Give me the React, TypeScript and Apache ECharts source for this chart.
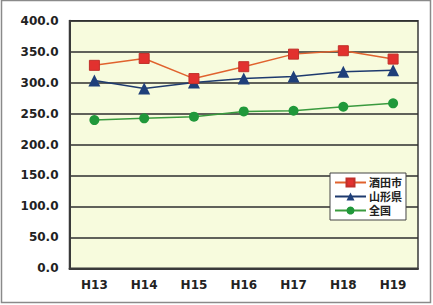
import React, { useEffect, useRef } from "react";
import * as echarts from "echarts";

const categories = ["H13", "H14", "H15", "H16", "H17", "H18", "H19"];
const sakata = [327.9, 339.0, 306.5, 325.7, 346.0, 351.5, 338.0];
const yamagata = [303.5, 290.5, 300.0, 306.5, 310.0, 317.5, 320.0];
const zenkoku = [239.5, 242.3, 245.0, 253.5, 254.5, 261.0, 266.5];
const seriesNames = ["酒田市", "山形県", "全国"];

export default function App() {
  const ref = useRef<HTMLDivElement>(null);
  useEffect(() => {
    if (!ref.current) return;
    const chart = echarts.init(ref.current, undefined, { renderer: "svg" });
    const font = "DejaVu Sans, sans-serif";
    chart.setOption({
      animation: false,
      backgroundColor: "#ffffff",
      textStyle: { fontFamily: font },
      graphic: [
        {
          type: "rect",
          shape: { x: 1.5, y: 0.5, width: 429, height: 302 },
          style: { fill: "none", stroke: "#8a8a8a", lineWidth: 1.5 },
          z: -1,
        },
      ],
      grid: {
        left: 69.5,
        right: 15,
        top: 20.7,
        bottom: 36.7,
        show: true,
        backgroundColor: "#f7fbdd",
        borderColor: "#3a3a3a",
        borderWidth: 1.5,
      },
      legend: {
        orient: "vertical",
        left: 330,
        top: 173,
        itemWidth: 31,
        itemHeight: 10,
        itemGap: 3,
        padding: [4, 4, 4, 4],
        backgroundColor: "#ffffff",
        borderColor: "#444",
        borderWidth: 1,
        borderRadius: 0,
        textStyle: {
          fontSize: 11,
          lineHeight: 11,
          color: "#222",
          fontFamily: "Liberation Sans, Noto Sans CJK JP",
          fontWeight: "bold",
          padding: [0, 0, 0, -2],
        },
        data: seriesNames,
      },
      xAxis: {
        type: "category",
        data: categories,
        boundaryGap: true,
        axisLine: { lineStyle: { color: "#3a3a3a", width: 2 } },
        axisTick: { inside: true, length: 4, lineStyle: { color: "#555", width: 1 } },
        axisLabel: { color: "#222", fontSize: 12, fontWeight: "bold", margin: 11, fontFamily: font },
      },
      yAxis: {
        type: "value",
        min: 0,
        max: 400,
        interval: 50,
        axisLine: { show: true, lineStyle: { color: "#3a3a3a", width: 2 } },
        axisTick: { show: false },
        axisLabel: {
          color: "#222",
          fontSize: 12,
          fontWeight: "bold",
          margin: 11,
          fontFamily: font,
          formatter: (v: number) => v.toFixed(1),
        },
        splitLine: { lineStyle: { color: "#2e2e2e", width: 1.5 } },
      },
      series: [
        {
          name: seriesNames[0],
          type: "line",
          data: sakata,
          symbol: "rect",
          symbolSize: 10,
          lineStyle: { color: "#e0622e", width: 1.5 },
          itemStyle: { color: "#e2312f", borderColor: "#c0302a", borderWidth: 1 },
          z: 3,
        },
        {
          name: seriesNames[1],
          type: "line",
          data: yamagata,
          symbol: "triangle",
          symbolSize: 12,
          lineStyle: { color: "#1e3a6e", width: 1.5 },
          itemStyle: { color: "#1f3f7a" },
          z: 2,
        },
        {
          name: seriesNames[2],
          type: "line",
          data: zenkoku,
          symbol: "circle",
          symbolSize: 10,
          lineStyle: { color: "#3a9a3e", width: 1.5 },
          itemStyle: { color: "#20983a" },
          z: 2,
        },
      ],
    });
    return () => chart.dispose();
  }, []);
  return (
    <div
      ref={ref}
      style={{ position: "fixed", left: 0, top: 0, width: 433, height: 305 }}
    />
  );
}
